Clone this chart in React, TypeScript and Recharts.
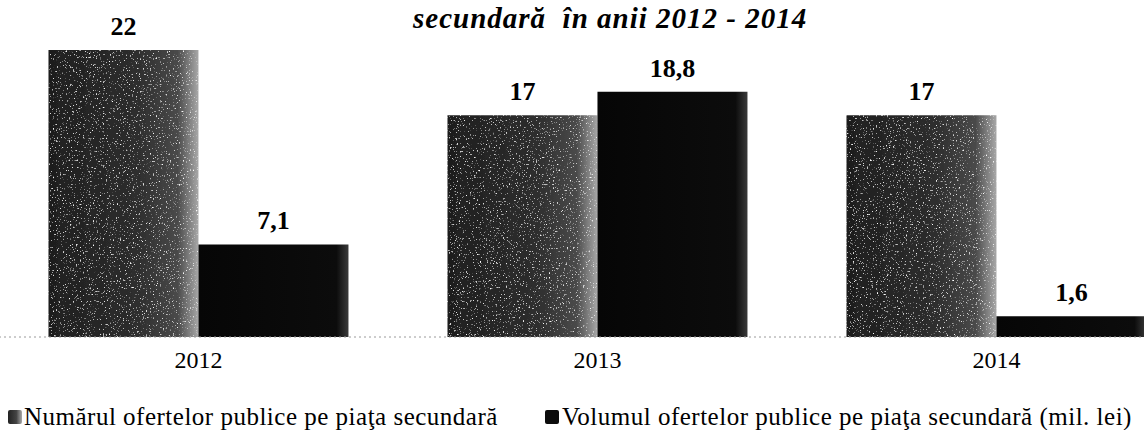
import { Bar, BarChart, LabelList, Legend, Rectangle, XAxis, YAxis } from 'recharts';

const years = ['2012', '2013', '2014'];
const numarOferte = [22, 17, 17];
const volumOferte = [7.1, 18.8, 1.6];
const seriesNames = [
  'Numărul ofertelor publice pe piaţa secundară',
  'Volumul ofertelor publice pe piaţa secundară (mil. lei)',
];
const titleText = 'secundară  în anii 2012 - 2014';

const data = years.map((year, i) => ({
  year,
  numar: numarOferte[i],
  volum: volumOferte[i],
}));

const serif = "'Liberation Serif', 'Times New Roman', Times, 'DejaVu Serif', serif";
const fmt = (v: unknown) => String(v).replace('.', ',');

// scanned look: white speckles over the bar
const SpeckledBar = (props: any) => <Rectangle {...props} filter='url(#speckle)' />;

function LegendContent() {
  const text = {
    fontFamily: serif,
    fontSize: 25,
    lineHeight: '25px',
    letterSpacing: 0.5,
    color: '#000',
    whiteSpace: 'nowrap' as const,
  };
  return (
    <div style={{ position: 'relative', width: 1144, height: 25 }}>
      <div style={{ position: 'absolute', left: 8, top: 0, display: 'flex', alignItems: 'center', ...text }}>
        <span
          style={{
            width: 14,
            height: 14,
            marginRight: 2,
            background: 'linear-gradient(90deg, #222 0%, #444 60%, #aaa 100%)',
            borderRadius: 2,
          }}
        />
        {seriesNames[0]}
      </div>
      <div style={{ position: 'absolute', left: 545, top: 0, display: 'flex', alignItems: 'center', ...text }}>
        <span style={{ width: 14, height: 14, marginRight: 3, background: '#0c0c0c', borderRadius: 2 }} />
        {seriesNames[1]}
      </div>
    </div>
  );
}

export default function App() {
  return (
    <div style={{ position: 'fixed', top: 0, left: 0, width: 1144, height: 430, overflow: 'hidden', background: '#fff' }}>
      <div
        style={{
          position: 'absolute',
          top: 3,
          left: 413,
          fontFamily: serif,
          fontSize: 29,
          lineHeight: '30px',
          letterSpacing: 1,
          fontWeight: 'bold',
          fontStyle: 'italic',
          whiteSpace: 'pre',
        }}
      >
        {titleText}
      </div>
      <div style={{ position: 'absolute', top: 0, left: -1 }}>
        <BarChart
          width={1197}
          height={430}
          data={data}
          margin={{ top: 50, right: 0, bottom: 0, left: 0 }}
          barCategoryGap='12.4%'
          barGap={0}
        >
          <defs>
            <linearGradient id='numarFill' x1='0' y1='0' x2='1' y2='0'>
              <stop offset='0%' stopColor='#1e1e1e' />
              <stop offset='60%' stopColor='#2e2e2e' />
              <stop offset='86%' stopColor='#4a4a4a' />
              <stop offset='100%' stopColor='#a8a8a8' />
            </linearGradient>
            <linearGradient id='volumFill' x1='0' y1='0' x2='1' y2='0'>
              <stop offset='0%' stopColor='#060606' />
              <stop offset='92%' stopColor='#0c0c0c' />
              <stop offset='100%' stopColor='#3a3a3a' />
            </linearGradient>
            <filter id='speckle' x='0' y='0' width='1' height='1'>
              <feTurbulence type='fractalNoise' baseFrequency='0.7' numOctaves={2} seed={7} result='noise' />
              <feColorMatrix
                in='noise'
                type='matrix'
                values='0 0 0 0 1  0 0 0 0 1  0 0 0 0 1  5 0 0 0 -3.2'
                result='dots'
              />
              <feComposite in='dots' in2='SourceGraphic' operator='in' result='dotsIn' />
              <feMerge>
                <feMergeNode in='SourceGraphic' />
                <feMergeNode in='dotsIn' />
              </feMerge>
            </filter>
          </defs>
          <XAxis
            dataKey='year'
            height={93}
            tickLine={false}
            stroke='#9a9a9a'
            strokeDasharray='2 3'
            tickMargin={8}
            tick={{ fill: '#000', fontSize: 24, fontFamily: serif }}
          />
          <YAxis hide domain={[0, 22]} />
          <Legend
            layout='horizontal'
            verticalAlign='middle'
            align='center'
            content={<LegendContent />}
            wrapperStyle={{ position: 'absolute', top: 404, left: 1, width: 1144 }}
          />
          <Bar
            dataKey='numar'
            name={seriesNames[0]}
            fill='url(#numarFill)'
            shape={SpeckledBar}
            isAnimationActive={false}
          >
            <LabelList
              dataKey='numar'
              position='top'
              offset={15}
              formatter={fmt}
              style={{ fill: '#000', fontSize: 26, fontWeight: 'bold', fontFamily: serif }}
            />
          </Bar>
          <Bar dataKey='volum' name={seriesNames[1]} fill='url(#volumFill)' isAnimationActive={false}>
            <LabelList
              dataKey='volum'
              position='top'
              offset={15}
              formatter={fmt}
              style={{ fill: '#000', fontSize: 26, fontWeight: 'bold', fontFamily: serif }}
            />
          </Bar>
        </BarChart>
      </div>
    </div>
  );
}
